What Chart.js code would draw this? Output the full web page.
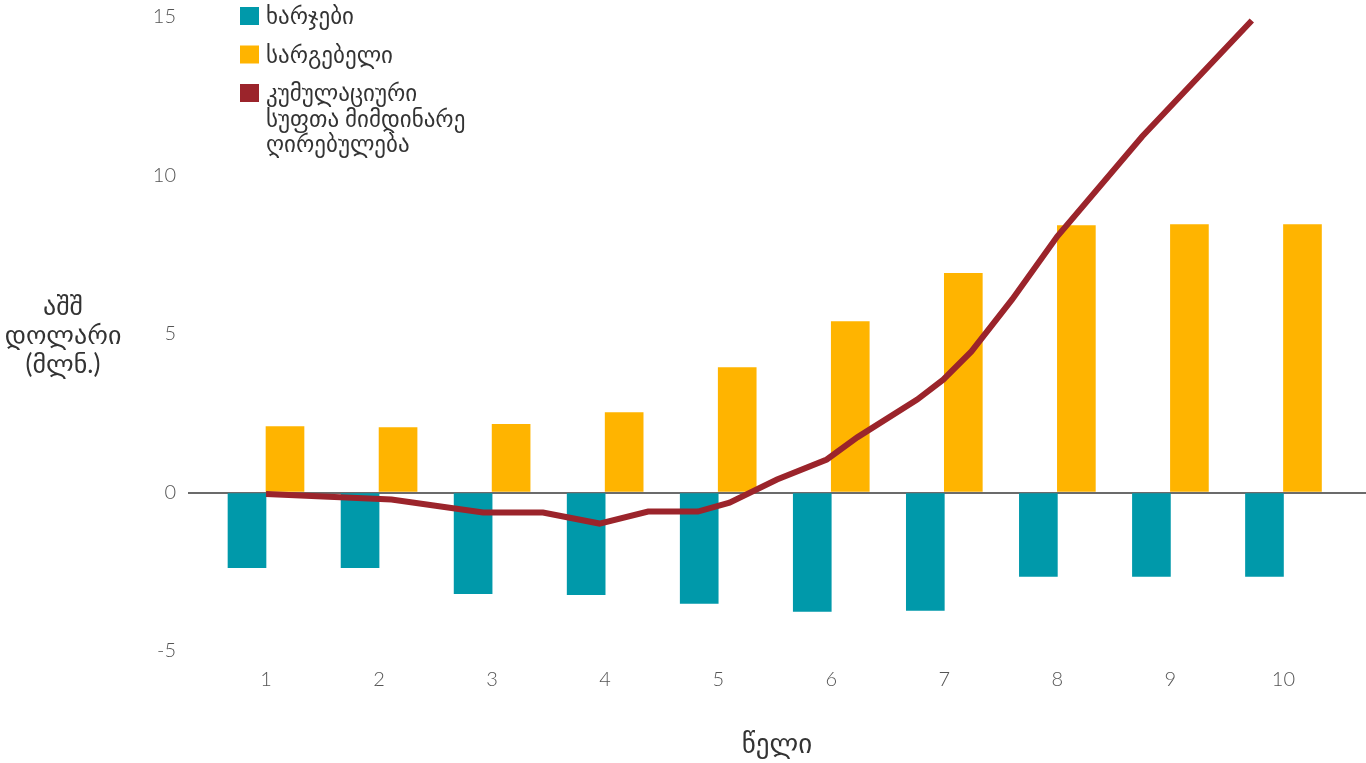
<!DOCTYPE html>
<html>
<head>
<meta charset="utf-8">
<script src="https://cdn.jsdelivr.net/npm/chart.js@4"></script>
<style>
  html, body { margin: 0; padding: 0; background: #fff; }
  #wrap { width: 1366px; height: 763px; }
</style>
</head>
<body>
<div id="wrap"><canvas id="chart" width="1366" height="763"></canvas></div>
<script>
// years on the x axis
const years = [1, 2, 3, 4, 5, 6, 7, 8, 9, 10];
// costs (negative) and benefits, million USD
const costs = [-2.37, -2.37, -3.19, -3.22, -3.50, -3.75, -3.72, -2.65, -2.65, -2.65];
const benefits = [2.08, 2.05, 2.15, 2.52, 3.94, 5.39, 6.91, 8.42, 8.45, 8.45];
// cumulative net present value
const npvX = [1, 2.11, 2.92, 3.45, 3.95, 4.38, 4.82, 5.10, 5.52, 5.96, 6.23, 6.76, 6.99, 7.24, 7.60, 8.00, 8.75, 9.72];
const npvY = [-0.05, -0.22, -0.63, -0.63, -0.98, -0.60, -0.60, -0.32, 0.41, 1.04, 1.74, 2.93, 3.56, 4.45, 6.09, 8.08, 11.23, 14.89];
const yTicks = [-5, 0, 5, 10, 15];

const FONT = "Lato, 'DejaVu Sans', sans-serif";
const TEXT = '#555555';

const costColor = '#0099AA';
const benefitColor = '#FFB400';
const npvColor = '#9B242B';

// legend + horizontal y title drawn on the canvas
const extras = {
    id: 'extras',
    afterDraw(chart) {
        const ctx = chart.ctx;
        ctx.save();
        ctx.fillStyle = '#333';
        ctx.textAlign = 'center';
        ctx.textBaseline = 'middle';
        ctx.font = '26px ' + FONT;
        ['აშშ', 'დოლარი', '(მლნ.)'].forEach((t, i) => ctx.fillText(t, 63, 307 + i * 29));

        ctx.textAlign = 'left';
        ctx.font = '23px ' + FONT;
        let y = 16;
        chart.data.datasets.forEach(ds => {
            ctx.fillStyle = ds.legendColor;
            ctx.fillRect(240, y - 9, 19, 18);
            ctx.fillStyle = '#333';
            const lines = ds.label.split('\n');
            lines.forEach((l, i) => ctx.fillText(l, 266, y + 1 + i * 25.5));
            y += 38.5 + (lines.length - 1) * 25.5;
        });
        ctx.restore();
    }
};

new Chart(document.getElementById('chart').getContext('2d'), {
    type: 'bar',
    data: {
        datasets: [{
            label: 'ხარჯები',
            data: years.map((x, i) => ({ x: x, y: costs[i] })),
            backgroundColor: costColor,
            legendColor: costColor,
            barThickness: 38,
            order: 1
        }, {
            label: 'სარგებელი',
            data: years.map((x, i) => ({ x: x, y: benefits[i] })),
            backgroundColor: benefitColor,
            legendColor: benefitColor,
            barThickness: 38,
            order: 1
        }, {
            type: 'line',
            label: 'კუმულაციური\nსუფთა მიმდინარე\nღირებულება',
            data: npvX.map((x, i) => ({ x: x, y: npvY[i] })),
            borderColor: npvColor,
            legendColor: npvColor,
            borderWidth: 6,
            pointRadius: 0,
            tension: 0,
            fill: false,
            order: 0
        }]
    },
    options: {
        responsive: false,
        animation: false,
        devicePixelRatio: 1,
        layout: { padding: { top: 17, left: 0, right: 0, bottom: 0 } },
        plugins: {
            legend: { display: false },
            tooltip: { enabled: false }
        },
        scales: {
            x: {
                type: 'linear',
                min: 0.31,
                max: 10.73,
                offset: false,
                afterBuildTicks: s => { s.ticks = years.map(v => ({ value: v })); },
                afterFit: s => { s.height = 112; },
                grid: { display: false, offset: false },
                border: { display: false },
                ticks: {
                    autoSkip: false,
                    maxRotation: 0,
                    padding: 9,
                    color: TEXT,
                    font: { family: FONT, size: 20, weight: '300' }
                },
                title: {
                    display: true,
                    text: 'წელი',
                    color: '#333',
                    padding: { top: 0, bottom: 3 },
                    font: { family: FONT, size: 27 }
                }
            },
            y: {
                min: -5,
                max: 15,
                afterBuildTicks: s => { s.ticks = yTicks.map(v => ({ value: v })); },
                afterFit: s => { s.width = 188; s.paddingTop = 0; s.paddingBottom = 0; },
                border: { display: false },
                grid: {
                    drawTicks: false,
                    lineWidth: 2,
                    color: c => c.tick && c.tick.value === 0 ? '#6b6b6b' : 'rgba(0,0,0,0)'
                },
                ticks: {
                    padding: 12,
                    color: TEXT,
                    font: { family: FONT, size: 20, weight: '300' }
                }
            }
        }
    },
    plugins: [extras]
});
</script>
</body>
</html>
